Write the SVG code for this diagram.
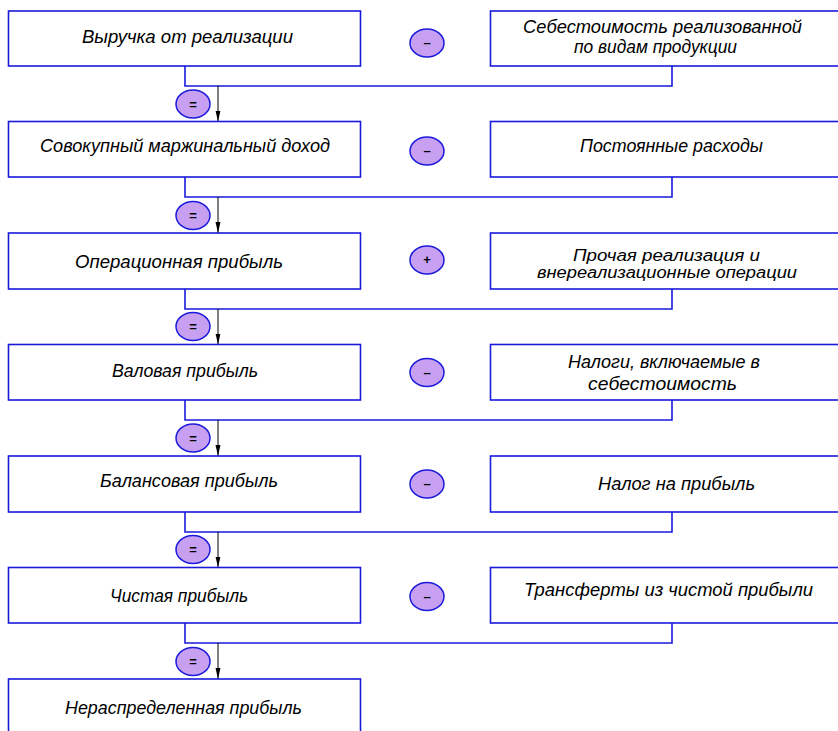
<svg xmlns="http://www.w3.org/2000/svg" width="838" height="731" viewBox="0 0 838 731">
<defs>
<style>
.box{fill:#fff;stroke:#1a1adc;stroke-width:1.6}
.ln{fill:none;stroke:#1a1adc;stroke-width:1.6}
.arr{fill:none;stroke:#000;stroke-width:1}
.op{fill:#c7a0f2;stroke:#1a1adc;stroke-width:1.5}
.t{font-family:"Liberation Sans",Arial,sans-serif;font-style:italic;font-size:19px;fill:#000}
.t2{font-size:16px}
.s{font-family:"Liberation Sans",Arial,sans-serif;font-size:13px;font-weight:bold;fill:#000;text-anchor:middle}
</style>
<marker id="ah" markerWidth="12" markerHeight="6" refX="11" refY="3" orient="auto" markerUnits="userSpaceOnUse" viewBox="0 0 12 6">
<path d="M0,0.5 L11,3 L0,5.5 Z" fill="#000"/>
</marker>
</defs>

<g id="connectors">
<path class="ln" d="M185,66 V86 H672 V66"/>
<path class="ln" d="M185,177 V197 H672 V177"/>
<path class="ln" d="M185,289 V309 H672 V289"/>
<path class="ln" d="M185,400 V420 H672 V400"/>
<path class="ln" d="M185,512 V532 H672 V512"/>
<path class="ln" d="M185,623 V643 H672 V623"/>
<line class="arr" x1="218" y1="86" x2="218" y2="121.5" marker-end="url(#ah)"/>
<line class="arr" x1="218" y1="197" x2="218" y2="233" marker-end="url(#ah)"/>
<line class="arr" x1="218" y1="309" x2="218" y2="344.5" marker-end="url(#ah)"/>
<line class="arr" x1="218" y1="420" x2="218" y2="456" marker-end="url(#ah)"/>
<line class="arr" x1="218" y1="532" x2="218" y2="567.5" marker-end="url(#ah)"/>
<line class="arr" x1="218" y1="643" x2="218" y2="679" marker-end="url(#ah)"/>
</g>

<g id="n1"><rect class="box" x="8.5" y="11" width="352" height="55"/><text class="t" x="82" y="43" textLength="211" lengthAdjust="spacingAndGlyphs">Выручка от реализации</text></g>
<g id="n2"><rect class="box" x="8.5" y="121.5" width="352" height="55.5"/><text class="t" x="40" y="152" textLength="290" lengthAdjust="spacingAndGlyphs">Совокупный маржинальный доход</text></g>
<g id="n3"><rect class="box" x="8.5" y="233" width="352" height="56"/><text class="t" x="75" y="268" textLength="208" lengthAdjust="spacingAndGlyphs">Операционная прибыль</text></g>
<g id="n4"><rect class="box" x="8.5" y="344.5" width="352" height="55.5"/><text class="t" x="112" y="377" textLength="146" lengthAdjust="spacingAndGlyphs">Валовая прибыль</text></g>
<g id="n5"><rect class="box" x="8.5" y="456" width="352" height="56"/><text class="t" x="100" y="487" textLength="178" lengthAdjust="spacingAndGlyphs">Балансовая прибыль</text></g>
<g id="n6"><rect class="box" x="8.5" y="567.5" width="352" height="55.5"/><text class="t" x="110" y="602" textLength="138" lengthAdjust="spacingAndGlyphs">Чистая прибыль</text></g>
<g id="n7"><rect class="box" x="8.5" y="679" width="352" height="60"/><text class="t" x="65" y="714" textLength="237" lengthAdjust="spacingAndGlyphs">Нераспределенная прибыль</text></g>

<g id="r1"><rect class="box" x="490.5" y="11" width="360" height="55"/><text class="t" x="523" y="33" textLength="279" lengthAdjust="spacingAndGlyphs">Себестоимость реализованной</text><text class="t" x="574" y="53" textLength="163" lengthAdjust="spacingAndGlyphs">по видам продукции</text></g>
<g id="r2"><rect class="box" x="490.5" y="121.5" width="360" height="55.5"/><text class="t" x="580" y="152" textLength="183" lengthAdjust="spacingAndGlyphs">Постоянные расходы</text></g>
<g id="r3"><rect class="box" x="490.5" y="233" width="360" height="56"/><text class="t t2" x="573" y="261" textLength="187" lengthAdjust="spacingAndGlyphs">Прочая реализация и</text><text class="t t2" x="537" y="277.5" textLength="260" lengthAdjust="spacingAndGlyphs">внереализационные операции</text></g>
<g id="r4"><rect class="box" x="490.5" y="344.5" width="360" height="55.5"/><text class="t" x="568" y="368" textLength="192" lengthAdjust="spacingAndGlyphs">Налоги, включаемые в</text><text class="t" x="588" y="390" textLength="149" lengthAdjust="spacingAndGlyphs">себестоимость</text></g>
<g id="r5"><rect class="box" x="490.5" y="456" width="360" height="56"/><text class="t" x="598" y="490" textLength="157" lengthAdjust="spacingAndGlyphs">Налог на прибыль</text></g>
<g id="r6"><rect class="box" x="490.5" y="567.5" width="360" height="55.5"/><text class="t" x="524" y="596" textLength="289" lengthAdjust="spacingAndGlyphs">Трансферты из чистой прибыли</text></g>

<g id="ops">
<g id="m1"><ellipse class="op" cx="427" cy="43" rx="17" ry="14"/><text class="s" x="427" y="47">–</text></g>
<g id="m2"><ellipse class="op" cx="427" cy="151" rx="17" ry="14"/><text class="s" x="427" y="155">–</text></g>
<g id="m3"><ellipse class="op" cx="427" cy="260" rx="17" ry="14"/><text class="s" x="427" y="264" font-size="11">+</text></g>
<g id="m4"><ellipse class="op" cx="427" cy="372.5" rx="17" ry="14"/><text class="s" x="427" y="376.5">–</text></g>
<g id="m5"><ellipse class="op" cx="427" cy="484" rx="17" ry="14"/><text class="s" x="427" y="488">–</text></g>
<g id="m6"><ellipse class="op" cx="427" cy="596.5" rx="17" ry="14"/><text class="s" x="427" y="600.5">–</text></g>
<g id="e1"><ellipse class="op" cx="193" cy="104" rx="17" ry="14"/><text class="s" x="193" y="108.5">=</text></g>
<g id="e2"><ellipse class="op" cx="193" cy="215.5" rx="17" ry="14"/><text class="s" x="193" y="220">=</text></g>
<g id="e3"><ellipse class="op" cx="193" cy="326.5" rx="17" ry="14"/><text class="s" x="193" y="331">=</text></g>
<g id="e4"><ellipse class="op" cx="193" cy="438" rx="17" ry="14"/><text class="s" x="193" y="442.5">=</text></g>
<g id="e5"><ellipse class="op" cx="193" cy="549.5" rx="17" ry="14"/><text class="s" x="193" y="554">=</text></g>
<g id="e6"><ellipse class="op" cx="193" cy="661.5" rx="17" ry="14"/><text class="s" x="193" y="666">=</text></g>
</g>
</svg>
